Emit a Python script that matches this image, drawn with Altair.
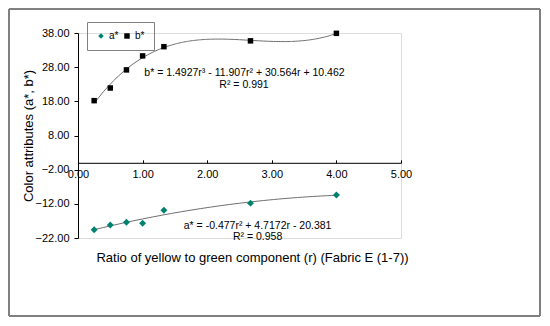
import altair as alt
import pandas as pd

# Data
r_vals = [0.25, 0.50, 0.75, 1.00, 1.33, 2.67, 4.00]
a_vals = [-19.6, -18.2, -17.4, -17.7, -13.9, -11.8, -9.4]
b_vals = [18.2, 21.9, 27.2, 31.3, 34.0, 35.7, 37.9]
series_names = ["a*", "b*"]
x_ticks = [0, 1, 2, 3, 4, 5]
y_ticks = [-22, -12, -2, 8, 18, 28, 38]
eq_b = ["b* = 1.4927r\u00b3 - 11.907r\u00b2 + 30.564r + 10.462", "R\u00b2 = 0.991"]
eq_a = ["a* = -0.477r\u00b2 + 4.7172r - 20.381", "R\u00b2 = 0.958"]

df = pd.DataFrame({
    "r": r_vals * 2,
    "value": a_vals + b_vals,
    "series": [series_names[0]] * len(r_vals) + [series_names[1]] * len(r_vals),
})

FONT = "Liberation Sans"
TEAL = "#00806f"

xscale = alt.Scale(domain=[0, 5], nice=False, zero=False)
yscale = alt.Scale(domain=[-22, 38], nice=False, zero=False)

xaxis = alt.Axis(
    orient="top", offset=-129.8, values=x_ticks, tickCount=len(x_ticks), format=".2f",
    tickSize=3, labelPadding=-20, labelFontSize=11, labelColor="#000",
    labelOverlap=False, labelFlush=False,
    domainColor="#000", tickColor="#000", grid=False,
    title="Ratio of yellow to green component (r) (Fabric E (1-7))",
    titleFontSize=13, titleFontWeight="normal", titleColor="#000",
    titleX=174, titleY=95, titleAnchor="middle", titleAlign="center", titleBaseline="middle",
)
yaxis = alt.Axis(
    values=y_ticks, tickCount=len(y_ticks), format=".2f", tickSize=4, labelPadding=5,
    labelFontSize=11, labelOverlap=False, labelFlush=False, labelBound=False,
    labelColor="#000", domainColor="#000", tickColor="#000", grid=False,
    title="Color attributes (a*, b*)", titleFontSize=13, titleFontWeight="normal",
    titleColor="#000", titleX=-50, titleY=102.5, titleAngle=270,
    titleAlign="center", titleBaseline="middle",
)

leg = alt.Legend(title=None, orient="none", legendX=9, legendY=-11,
                 direction="horizontal", strokeColor="#808080",
                 padding=9, columnPadding=3, labelFontSize=10, labelOffset=3,
                 symbolSize=30, labelFont=FONT, labelColor="#000")

base = alt.Chart(df)

points = base.mark_point(filled=True, opacity=1).encode(
    x=alt.X("r:Q", scale=xscale, axis=xaxis),
    y=alt.Y("value:Q", scale=yscale, axis=yaxis),
    shape=alt.Shape("series:N", scale=alt.Scale(domain=series_names, range=["diamond", "square"]),
                    legend=leg),
    color=alt.Color("series:N", scale=alt.Scale(domain=series_names, range=[TEAL, "#000000"]),
                    legend=leg),
    size=alt.condition(alt.datum.series == "a*", alt.value(48), alt.value(30)),
)

trend_b = base.transform_filter(alt.datum.series == "b*").transform_regression(
    "r", "value", method="poly", order=3
).mark_line(color="#707070", strokeWidth=1).encode(
    x=alt.X("r:Q", scale=xscale), y=alt.Y("value:Q", scale=yscale)
)
trend_a = base.transform_filter(alt.datum.series == "a*").transform_regression(
    "r", "value", method="poly", order=2
).mark_line(color="#707070", strokeWidth=1).encode(
    x=alt.X("r:Q", scale=xscale), y=alt.Y("value:Q", scale=yscale)
)

def label(txt, xv, yv):
    return alt.Chart(pd.DataFrame({"t": [txt]})).mark_text(
        fontSize=10.5, font=FONT, color="#000", align="center", baseline="middle"
    ).encode(text="t:N", x=alt.datum(xv, scale=xscale), y=alt.datum(yv, scale=yscale))

texts = (label(eq_b[0], 2.577, 26.3) + label(eq_b[1], 2.57, 22.64)
         + label(eq_a[0], 2.78, -18.4) + label(eq_a[1], 2.78, -21.7))

one = pd.DataFrame({"k": [0]})
L, R, T, B = -69, 462, -24, 283
def rule(x1, x2, y1, y2):
    return alt.Chart(one).mark_rule(color="#808080", strokeWidth=2).encode(
        x=alt.value(x1), x2=alt.value(x2), y=alt.value(y1), y2=alt.value(y2))
frame = rule(L, R, T, T) + rule(L, R, B, B) + rule(L, L, T, B) + rule(R, R, T, B)

chart = alt.layer(frame, trend_b, trend_a, points, texts).properties(
    width=323, height=205,
    autosize=alt.AutoSizeParams(type="none"),
    padding={"left": 70, "top": 25, "right": 140, "bottom": 79},
).configure_view(stroke=None).configure(font=FONT).configure_axis(labelOverlap=False)

chart.save("out.html", embed_options={"renderer": "svg", "actions": False})
